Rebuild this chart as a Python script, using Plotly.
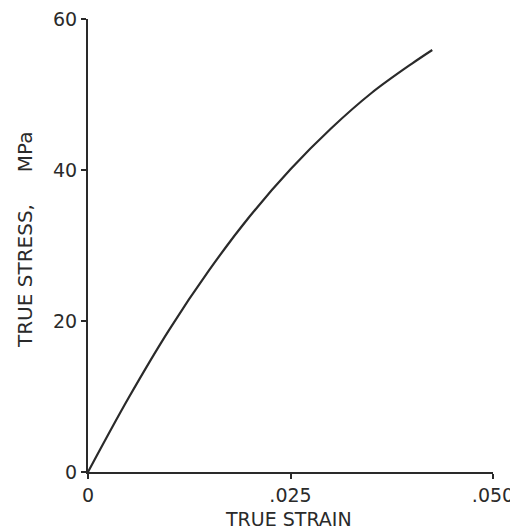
import plotly.graph_objects as go

# Data (true strain, true stress in MPa)
strain = [0.0, 0.005, 0.010, 0.015, 0.020, 0.025, 0.030, 0.035, 0.040, 0.0425]
stress = [0.0, 9.8, 18.8, 26.8, 33.9, 40.1, 45.5, 50.2, 54.1, 55.9]

x_tickvals = [0, 0.025, 0.050]
x_ticktext = ["0", ".025", ".050"]
y_tickvals = [0, 20, 40, 60]
y_ticktext = ["0", "20", "40", "60"]

x_title = "TRUE STRAIN"
y_title = "TRUE STRESS,\u00a0\u00a0\u00a0\u00a0\u00a0MPa"

FONT = "DejaVu Sans, Liberation Sans, sans-serif"
INK = "#2a2a2a"

# The page body adds an 8px margin, so the figure is drawn 8px smaller
# and every position below is in figure pixels (reference pixels - 8).
W, H = 510, 524
L, R, T, B = 80, 25, 11, 60
plot_w = W - L - R
plot_h = H - T - B

fig = go.Figure()
fig.add_trace(go.Scatter(
    x=strain, y=stress, mode="lines",
    line=dict(color=INK, width=2.2, shape="spline", smoothing=1.0),
    showlegend=False, hoverinfo="skip",
))

axis_common = dict(
    showgrid=False, zeroline=False, showline=True, linecolor=INK, linewidth=2,
    ticks="outside", ticklen=5, tickwidth=1.5, tickcolor=INK,
    tickfont=dict(size=19, family=FONT, color=INK),
    ticklabeloverflow="allow",
    automargin=False, fixedrange=True,
)

fig.update_layout(
    template="none",
    width=W, height=H,
    margin=dict(l=L, r=R, t=T, b=B, pad=0),
    paper_bgcolor="white", plot_bgcolor="white",
    font=dict(family=FONT, color=INK, size=19),
    xaxis=dict(range=[0, 0.05], tickvals=x_tickvals, ticktext=x_ticktext, **axis_common),
    yaxis=dict(range=[0, 60], tickvals=y_tickvals, ticktext=y_ticktext, **axis_common),
    annotations=[
        dict(text=x_title, xref="paper", yref="paper",
             x=(280 - L) / plot_w, y=-(511 - (H - B)) / plot_h,
             xanchor="center", yanchor="middle", showarrow=False,
             font=dict(size=19, family=FONT, color=INK)),
        dict(text=y_title, xref="paper", yref="paper",
             x=(17 - L) / plot_w, y=((H - B) - 232) / plot_h,
             xanchor="center", yanchor="middle", showarrow=False, textangle=-90,
             font=dict(size=20, family=FONT, color=INK)),
    ],
)

fig.write_html("out.html")
